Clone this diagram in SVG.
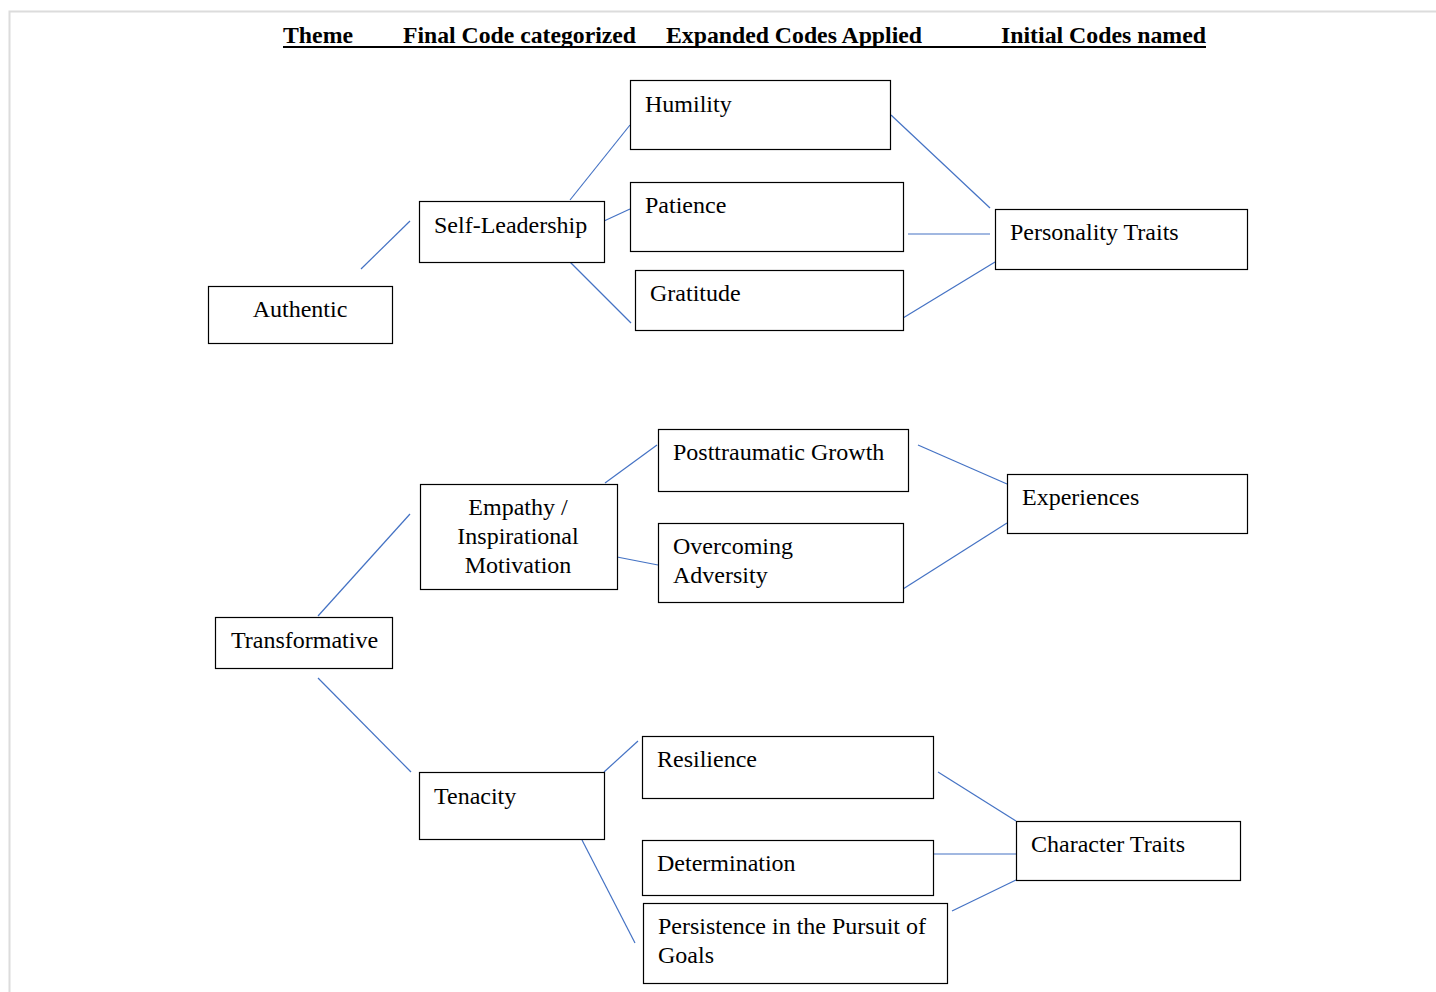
<svg xmlns="http://www.w3.org/2000/svg" width="1436" height="992" viewBox="0 0 1436 992">
<style>
.box{fill:#fff;stroke:#000;stroke-width:1.2}
.t{font-family:"Liberation Serif","Times New Roman",serif;font-size:24px;fill:#000}
.h{font-family:"Liberation Serif","Times New Roman",serif;font-size:24px;font-weight:bold;fill:#000}
.c{stroke:#4472C4;stroke-width:1.2;fill:none}
</style>
<rect width="1436" height="992" fill="#fff"/>
<g id="page-border" fill="none" stroke="#dcdcdc" stroke-width="2">
<path d="M9.5,992 V11.5 H1436"/>
</g>
<g id="header">
<text class="h" x="283" y="43" textLength="70" lengthAdjust="spacingAndGlyphs">Theme</text>
<text class="h" x="403" y="43" textLength="233" lengthAdjust="spacingAndGlyphs">Final Code categorized</text>
<text class="h" x="666" y="43" textLength="256" lengthAdjust="spacingAndGlyphs">Expanded Codes Applied</text>
<text class="h" x="1001" y="43" textLength="205" lengthAdjust="spacingAndGlyphs">Initial Codes named</text>
<rect x="283" y="46" width="923" height="2" fill="#000"/>
</g>
<g id="connectors">
<line class="c" x1="361" y1="269" x2="410" y2="221"/>
<line class="c" x1="570" y1="200" x2="630" y2="125"/>
<line class="c" x1="604" y1="221" x2="630" y2="209"/>
<line class="c" x1="570" y1="262" x2="631" y2="323"/>
<line class="c" x1="891" y1="115" x2="990" y2="208"/>
<line class="c" x1="908" y1="234" x2="990" y2="234"/>
<line class="c" x1="903" y1="318" x2="995" y2="262"/>
<line class="c" x1="605" y1="483" x2="657" y2="445"/>
<line class="c" x1="617" y1="557" x2="658" y2="565"/>
<line class="c" x1="318" y1="616" x2="410" y2="514"/>
<line class="c" x1="918" y1="445" x2="1007" y2="484"/>
<line class="c" x1="903" y1="589" x2="1007" y2="523"/>
<line class="c" x1="318" y1="678" x2="411" y2="772"/>
<line class="c" x1="604" y1="772" x2="638" y2="741"/>
<line class="c" x1="582" y1="840" x2="635" y2="943"/>
<line class="c" x1="938" y1="772" x2="1016" y2="821"/>
<line class="c" x1="933" y1="854" x2="1016" y2="854"/>
<line class="c" x1="952" y1="911" x2="1016" y2="880"/>
</g>
<g id="authentic"><rect class="box" x="208.5" y="286.5" width="184" height="57"/><text class="t" x="300" y="317" text-anchor="middle">Authentic</text></g>
<g id="self-leadership"><rect class="box" x="419.5" y="201.5" width="185" height="61"/><text class="t" x="434" y="233">Self-Leadership</text></g>
<g id="humility"><rect class="box" x="630.5" y="80.5" width="260" height="69"/><text class="t" x="645" y="112">Humility</text></g>
<g id="patience"><rect class="box" x="630.5" y="182.5" width="273" height="69"/><text class="t" x="645" y="213">Patience</text></g>
<g id="gratitude"><rect class="box" x="635.5" y="270.5" width="268" height="60"/><text class="t" x="650" y="301">Gratitude</text></g>
<g id="personality-traits"><rect class="box" x="995.5" y="209.5" width="252" height="60"/><text class="t" x="1010" y="240">Personality Traits</text></g>
<g id="transformative"><rect class="box" x="215.5" y="617.5" width="177" height="51"/><text class="t" x="231" y="648">Transformative</text></g>
<g id="empathy"><rect class="box" x="420.5" y="484.5" width="197" height="105"/><text class="t" text-anchor="middle"><tspan x="518" y="515">Empathy /</tspan><tspan x="518" y="544">Inspirational</tspan><tspan x="518" y="573">Motivation</tspan></text></g>
<g id="posttraumatic-growth"><rect class="box" x="658.5" y="429.5" width="250" height="62"/><text class="t" x="673" y="460">Posttraumatic Growth</text></g>
<g id="overcoming-adversity"><rect class="box" x="658.5" y="523.5" width="245" height="79"/><text class="t"><tspan x="673" y="554">Overcoming</tspan><tspan x="673" y="583">Adversity</tspan></text></g>
<g id="experiences"><rect class="box" x="1007.5" y="474.5" width="240" height="59"/><text class="t" x="1022" y="505">Experiences</text></g>
<g id="tenacity"><rect class="box" x="419.5" y="772.5" width="185" height="67"/><text class="t" x="434" y="804">Tenacity</text></g>
<g id="resilience"><rect class="box" x="642.5" y="736.5" width="291" height="62"/><text class="t" x="657" y="767">Resilience</text></g>
<g id="determination"><rect class="box" x="642.5" y="840.5" width="291" height="55"/><text class="t" x="657" y="871">Determination</text></g>
<g id="persistence"><rect class="box" x="643.5" y="903.5" width="304" height="80"/><text class="t"><tspan x="658" y="934">Persistence in the Pursuit of</tspan><tspan x="658" y="963">Goals</tspan></text></g>
<g id="character-traits"><rect class="box" x="1016.5" y="821.5" width="224" height="59"/><text class="t" x="1031" y="852">Character Traits</text></g>
</svg>
